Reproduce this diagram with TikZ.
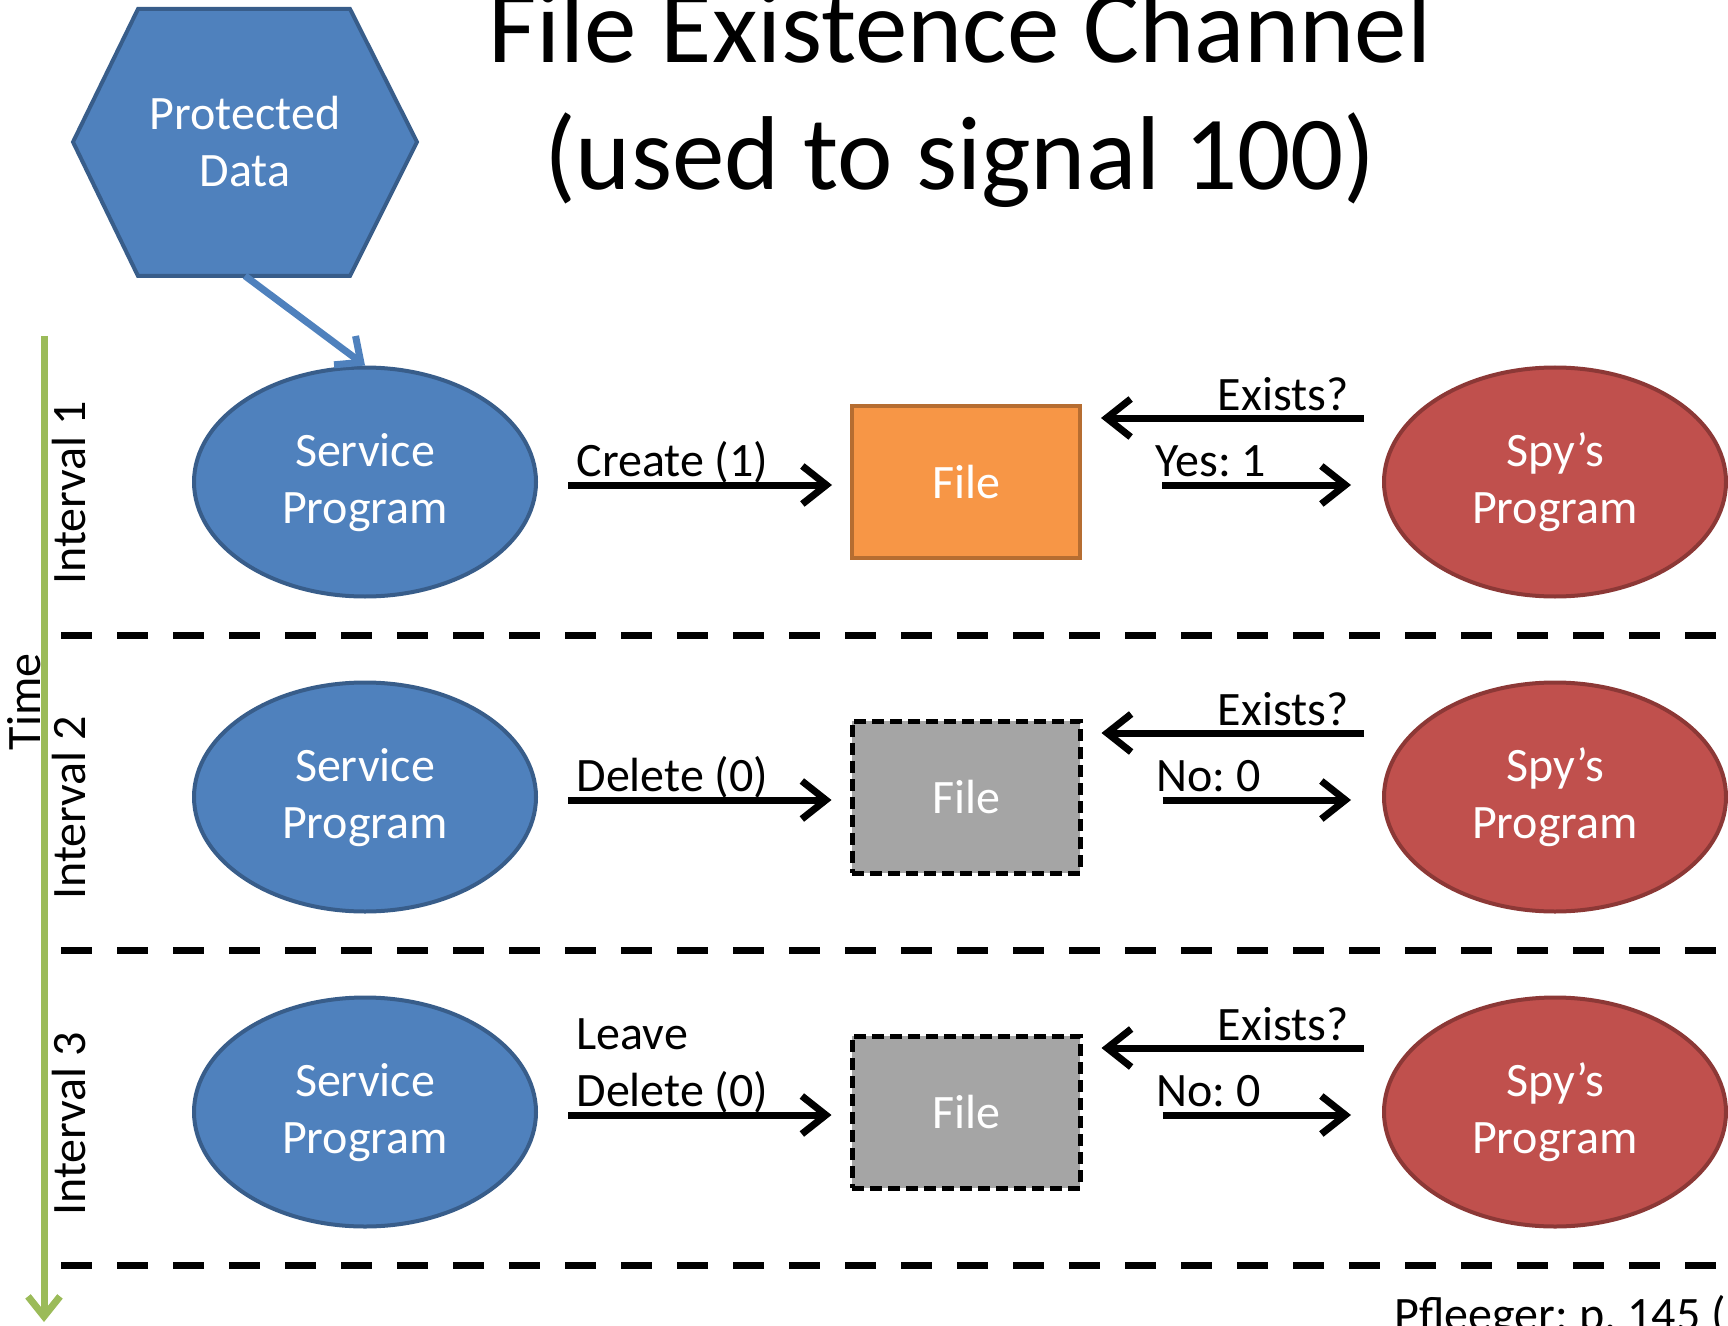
\documentclass[tikz,border=0pt]{standalone}
\usepackage{fontspec}
\setmainfont{Carlito}
\usetikzlibrary{shapes.geometric,arrows.meta}

\definecolor{svcblue}{HTML}{4F81BD}
\definecolor{svcedge}{HTML}{385D8A}
\definecolor{spyred}{HTML}{C0504D}
\definecolor{spyedge}{HTML}{8C3836}
\definecolor{fileorange}{HTML}{F79646}
\definecolor{fileedge}{HTML}{B66D31}
\definecolor{filegray}{HTML}{A5A5A5}
\definecolor{timegreen}{HTML}{9BBB59}

\tikzset{
  txt/.style={font=\fontsize{24}{28.5}\selectfont},
  prog/.style={ellipse,minimum width=171pt,minimum height=114.5pt,line width=2pt,
    text=white,align=center,txt,text depth=4pt},
  service/.style={prog,fill=svcblue,draw=svcedge},
  spy/.style={prog,fill=spyred,draw=spyedge},
  file/.style={rectangle,minimum width=114pt,minimum height=76pt,text=white,txt},
  filethere/.style={file,fill=fileorange,draw=fileedge,line width=2pt},
  filegone/.style={file,fill=filegray,draw=black,line width=2.5pt,dash pattern=on 6pt off 3pt},
  msg/.style={txt,inner sep=0pt},
  link/.style={->,line width=3.5pt},
  sep/.style={line width=3.5pt,dash pattern=on 15.5pt off 12.5pt},
}

\begin{document}
\frenchspacing
\begin{tikzpicture}[x=0.5pt,y=-0.5pt,>={Straight Barb[length=12pt,width=19pt]}]
\useasboundingbox (0,0) rectangle (1728,1326);
\clip (0,0) rectangle (1728,1326);

% title
\node[font=\fontsize{52.5}{63.5}\selectfont,align=center,anchor=base] (title) at (960,190)
  {File Existence Channel\\(used to signal 100)};

% protected data
\fill[svcblue,draw=svcedge,line width=2pt] (73,142) -- (138,9) -- (350,9) -- (417,142)
  -- (350,276) -- (138,276) -- cycle;
\node[txt,text=white,align=center,minimum height=133.5pt] (data) at (245,142) {Protected\\Data};

% time axis
\coordinate (tstart) at (44,336);
\coordinate (tend) at (44,1322);
\draw[->,timegreen,line width=3.5pt,>={Straight Barb[length=10pt,width=16pt]}] (tstart) -- (tend);
\node[msg,rotate=90] (time) at (24,702) {Time};
\node[msg,rotate=90] (int1) at (69,493) {Interval 1};
\node[msg,rotate=90] (int2) at (69,808) {Interval 2};
\node[msg,rotate=90] (int3) at (69,1124) {Interval 3};

% separators
\draw[sep] (61,635) -- (1728,635);
\draw[sep] (61,950) -- (1728,950);
\draw[sep] (61,1265) -- (1728,1265);

% interval 1
\node[service] (svc1) at (365,482) {Service\\Program};
\node[filethere] (file1) at (966,482) {File};
\node[spy] (spy1) at (1555,482) {Spy’s\\Program};
\draw[->,svcblue,line width=3.5pt,>={Straight Barb[length=10pt,width=18pt]}] (data.south) -- (svc1.north);
\draw[link,shorten <=15pt,shorten >=9pt] ([yshift=-1.5pt]svc1.east) --
  node[msg,pos=0,anchor=base west,xshift=17.5pt,yshift=4.5pt] {Create (1)} ([yshift=-1.5pt]file1.west);
\draw[link,shorten <=9pt,shorten >=9.5pt] ([yshift=32pt]spy1.west) --
  node[msg,pos=0,anchor=base east,xshift=-15pt,yshift=4pt] {Exists?} ([yshift=32pt]file1.east);
\draw[link,shorten <=40pt,shorten >=15.5pt] ([yshift=-1.5pt]file1.east) --
  node[msg,pos=0,anchor=base west,xshift=35pt,yshift=4.5pt] {Yes: 1} ([yshift=-1.5pt]spy1.west);

% interval 2
\node[service] (svc2) at (365,797) {Service\\Program};
\node[filegone] (file2) at (966,797) {File};
\node[spy] (spy2) at (1555,797) {Spy’s\\Program};
\draw[link,shorten <=15pt,shorten >=9pt] ([yshift=-1.5pt]svc2.east) --
  node[msg,pos=0,anchor=base west,xshift=17.5pt,yshift=4.5pt] {Delete (0)} ([yshift=-1.5pt]file2.west);
\draw[link,shorten <=9pt,shorten >=9.5pt] ([yshift=32pt]spy2.west) --
  node[msg,pos=0,anchor=base east,xshift=-15pt,yshift=4pt] {Exists?} ([yshift=32pt]file2.east);
\draw[link,shorten <=40pt,shorten >=15.5pt] ([yshift=-1.5pt]file2.east) --
  node[msg,pos=0,anchor=base west,xshift=35pt,yshift=4.5pt] {No: 0} ([yshift=-1.5pt]spy2.west);

% interval 3
\node[service] (svc3) at (365,1112) {Service\\Program};
\node[filegone] (file3) at (966,1112) {File};
\node[spy] (spy3) at (1555,1112) {Spy’s\\Program};
\draw[link,shorten <=15pt,shorten >=9pt] ([yshift=-1.5pt]svc3.east) --
  node[msg,pos=0,anchor=base west,align=left,xshift=17.5pt,yshift=4.5pt] {Leave\\Delete (0)} ([yshift=-1.5pt]file3.west);
\draw[link,shorten <=9pt,shorten >=9.5pt] ([yshift=32pt]spy3.west) --
  node[msg,pos=0,anchor=base east,xshift=-15pt,yshift=4pt] {Exists?} ([yshift=32pt]file3.east);
\draw[link,shorten <=40pt,shorten >=15.5pt] ([yshift=-1.5pt]file3.east) --
  node[msg,pos=0,anchor=base west,xshift=35pt,yshift=4.5pt] {No: 0} ([yshift=-1.5pt]spy3.west);

% source
\node[msg,anchor=base west] (cite) at (1394,1330) {Pfleeger: p. 145 (};
\end{tikzpicture}
\end{document}
